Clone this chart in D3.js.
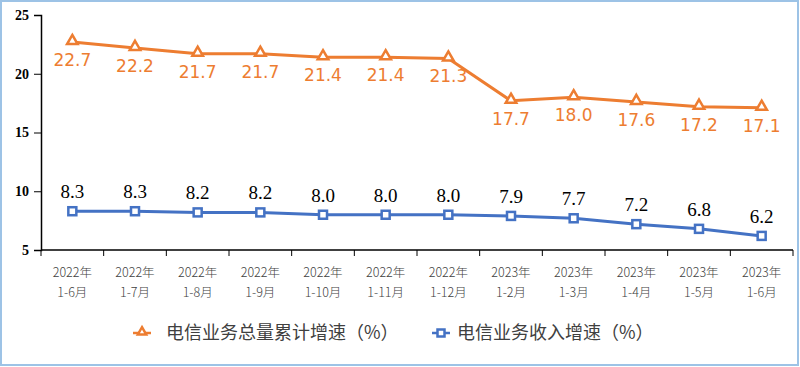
<!DOCTYPE html>
<html><head><meta charset="utf-8">
<script src="https://cdn.jsdelivr.net/npm/d3@7"></script>
<style>body{margin:0;background:#fff}svg{display:block}</style>
</head><body>
<svg id="c" width="800" height="367"></svg>
<script>
const years = ["2022年","2022年","2022年","2022年","2022年","2022年","2022年","2023年","2023年","2023年","2023年","2023年"];
const months = ["1-6月","1-7月","1-8月","1-9月","1-10月","1-11月","1-12月","1-2月","1-3月","1-4月","1-5月","1-6月"];
const totalGrowth = [22.7,22.2,21.7,21.7,21.4,21.4,21.3,17.7,18.0,17.6,17.2,17.1];
const revenueGrowth = [8.3,8.3,8.2,8.2,8.0,8.0,8.0,7.9,7.7,7.2,6.8,6.2];
const yTicks = [5,10,15,20,25];
const seriesNames = ["电信业务总量累计增速（%）","电信业务收入增速（%）"];

const orange = "#ED7D31", blue = "#4472C4";
const svg = d3.select("#c");
svg.append("rect").attr("x",1).attr("y",1).attr("width",797).attr("height",364)
  .attr("fill","none").attr("stroke","#9DC3E6").attr("stroke-width",2);

const idx = d3.range(months.length);
const x = d3.scaleBand().domain(idx).range([41,793]);
const y = d3.scaleLinear().domain([5,25]).range([250,15]);
const cx = i => x(i) + x.bandwidth()/2;

const yAxis = d3.axisLeft(y).tickValues(yTicks).tickSize(7).tickPadding(5);
const gy = svg.append("g").attr("transform","translate(41,0)").call(yAxis);
gy.select(".domain").attr("stroke","#000").attr("stroke-width",1.5);
gy.selectAll(".tick line").attr("stroke","#000");
gy.selectAll("text").attr("font-family","'Liberation Serif','Times New Roman',serif")
  .attr("font-size",14).attr("font-weight","bold").attr("fill","#000");

const gx = svg.append("g");
gx.append("line").attr("x1",41).attr("x2",793).attr("y1",250).attr("y2",250)
  .attr("stroke","#000").attr("stroke-width",1.5);
gx.selectAll("line.t").data(d3.range(months.length+1)).join("line")
  .attr("x1",d=>41 + d*x.step()).attr("x2",d=>41 + d*x.step())
  .attr("y1",250).attr("y2",256).attr("stroke","#000");
const xl = gx.selectAll("text.xl").data(idx).join("text")
  .attr("x",cx).attr("text-anchor","middle")
  .attr("font-family","'Noto Sans CJK SC',sans-serif").attr("font-size",12.5).attr("font-weight",300).attr("fill","#404040");
xl.append("tspan").attr("x",cx).attr("y",277).text(i=>years[i]);
xl.append("tspan").attr("x",cx).attr("y",297).text(i=>months[i]);

const line = vals => d3.line().x((d,i)=>cx(i)).y(d=>y(d))(vals);
svg.append("path").attr("d",line(totalGrowth)).attr("fill","none").attr("stroke",orange).attr("stroke-width",3);
svg.append("path").attr("d",line(revenueGrowth)).attr("fill","none").attr("stroke",blue).attr("stroke-width",3);

const tri = d3.symbol().type(d3.symbolTriangle).size(48);
svg.selectAll("path.tri").data(totalGrowth).join("path")
  .attr("d",tri).attr("transform",(d,i)=>`translate(${cx(i)},${y(d)-1})`)
  .attr("fill","#fff").attr("stroke",orange).attr("stroke-width",2.5);
svg.selectAll("rect.sq").data(revenueGrowth).join("rect")
  .attr("x",(d,i)=>cx(i)-4).attr("y",d=>y(d)-4).attr("width",8).attr("height",8)
  .attr("fill","#fff").attr("stroke",blue).attr("stroke-width",2.5);

svg.selectAll("text.ol").data(totalGrowth).join("text")
  .attr("x",(d,i)=>cx(i)).attr("y",d=>y(d)+24).attr("text-anchor","middle")
  .attr("font-family","'DejaVu Sans',Verdana,sans-serif").attr("font-size",17).attr("fill",orange)
  .text(d=>d.toFixed(1));
svg.selectAll("text.bl").data(revenueGrowth).join("text")
  .attr("x",(d,i)=>cx(i)).attr("y",d=>y(d)-13).attr("text-anchor","middle")
  .attr("font-family","'Liberation Serif','Times New Roman',serif").attr("font-size",19).attr("fill","#000")
  .text(d=>d.toFixed(1));

const lg = svg.append("g");
const legendX = [142, 441];
const triS = d3.symbol().type(d3.symbolTriangle).size(30);
lg.append("line").attr("x1",legendX[0]-9).attr("x2",legendX[0]+9).attr("y1",333).attr("y2",333).attr("stroke",orange).attr("stroke-width",2.5);
lg.append("path").attr("d",triS).attr("transform",`translate(${legendX[0]},${332})`).attr("fill","#fff").attr("stroke",orange).attr("stroke-width",2.5);
lg.append("line").attr("x1",legendX[1]-9).attr("x2",legendX[1]+9).attr("y1",333).attr("y2",333).attr("stroke",blue).attr("stroke-width",2.5);
lg.append("rect").attr("x",legendX[1]-3.5).attr("y",329.5).attr("width",7).attr("height",7).attr("fill","#fff").attr("stroke",blue).attr("stroke-width",2.5);
lg.selectAll("text").data(seriesNames).join("text")
  .attr("x",(d,i)=>legendX[i]+(i?16:24)).attr("y",339)
  .attr("font-family","'Noto Sans CJK SC',sans-serif").attr("font-size",18).attr("fill","#404040")
  .text(d=>d);
</script>
</body></html>
